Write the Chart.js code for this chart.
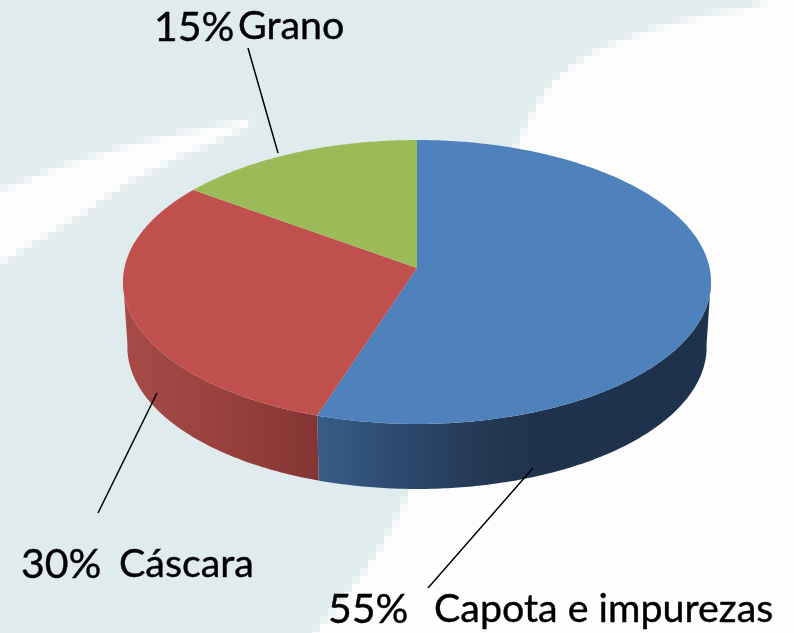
<!DOCTYPE html>
<html lang="es">
<head>
    <meta charset="UTF-8">
    <title>Composición</title>
    <script src="https://cdn.jsdelivr.net/npm/chart.js"></script>
    <style>
        html, body { margin: 0; padding: 0; background: #e0ebed; overflow: hidden; }
        canvas { display: block; }
    </style>
</head>
<body>
    <canvas id="pie" width="794" height="633"></canvas>

    <script>
        const categories = ['Capota e impurezas', 'Cáscara', 'Grano'];
        const shares = [55, 30, 15];
        const topColors = ['#4f81bd', '#c0504d', '#9bbb59'];

        // side wall gradient per slice: [x, colour]
        const wallStops = [
            [[318, '#375d87'], [400, '#2c4a6e'], [500, '#22364f'], [540, '#1f334e'], [711, '#1f324d']],
            [[123, '#a64b47'], [200, '#9c4440'], [318, '#843533']],
            [[190, '#7d9649'], [417, '#7d9649']]
        ];

        // label layout: pct x/y, name x/y, leader from/to
        const labelBoxes = [
            { pct: [328, 623], name: [434, 622], line: [533, 468, 428, 588] },
            { pct: [21, 578], name: [119, 577], line: [157, 393, 98, 513] },
            { pct: [154, 41], name: [238, 38.5], line: [248, 48, 278, 153] }
        ];

        // tilted disc with perspective
        const cx = 417, cy = 268, halfW = 292.6, halfH = 140.6, persp = 0.0986;
        const depth = 65, bottomShrink = 0.985;

        function rim(angle) {
            // chart.js angles: -PI/2 is the top of the pie
            const u = Math.cos(angle), v = Math.sin(angle);
            const d = 1 - persp * v;
            return [cx + halfW * u / d, cy + halfH * v / d, v];
        }

        function sampleArc(a, b) {
            const pts = [];
            const n = Math.max(2, Math.ceil((b - a) * 90));
            for (let i = 0; i <= n; i++) pts.push(rim(a + (b - a) * i / n));
            return pts;
        }

        function paintBackground(ctx, w, h) {
            // the backdrop is a coarse upscaled bitmap, so draw it small and blow it up
            const block = 8;
            const small = document.createElement('canvas');
            small.width = Math.ceil(w / block);
            small.height = Math.ceil(h / block);
            const s = small.getContext('2d');
            s.fillStyle = '#e0ebed';
            s.fillRect(0, 0, small.width, small.height);
            s.scale(1 / block, 1 / block);
            s.filter = 'blur(0.45px)';
            s.fillStyle = '#fdfdfd';
            // right hand sweep
            s.beginPath();
            s.moveTo(850, -40);
            s.lineTo(850, 700);
            s.lineTo(260, 700);
            s.lineTo(314, 633);
            s.bezierCurveTo(370, 570, 400, 520, 412, 480);
            s.bezierCurveTo(460, 320, 490, 180, 540, 97);
            s.bezierCurveTo(575, 50, 640, 25, 750, 8);
            s.closePath();
            s.fill();
            // left streak
            s.beginPath();
            s.moveTo(253, 118);
            s.lineTo(207, 127);
            s.lineTo(140, 142);
            s.lineTo(67, 163);
            s.lineTo(-40, 205);
            s.lineTo(-40, 290);
            s.lineTo(33, 243);
            s.lineTo(83, 213);
            s.lineTo(133, 180);
            s.lineTo(187, 153);
            s.lineTo(247, 128);
            s.closePath();
            s.fill();
            ctx.save();
            ctx.imageSmoothingEnabled = false;
            ctx.drawImage(small, 0, 0, small.width * block, small.height * block);
            ctx.restore();
        }

        function paintWall(ctx, arc, stops) {
            // only the part of the rim facing the viewer
            const pts = sampleArc(arc.startAngle, arc.endAngle).filter(p => p[2] > persp - 0.02);
            if (pts.length < 2) return;
            const grad = ctx.createLinearGradient(stops[0][0], 0, stops[stops.length - 1][0], 0);
            const span = stops[stops.length - 1][0] - stops[0][0];
            stops.forEach(st => grad.addColorStop((st[0] - stops[0][0]) / span, st[1]));
            ctx.beginPath();
            pts.forEach((p, i) => i ? ctx.lineTo(p[0], p[1]) : ctx.moveTo(p[0], p[1]));
            for (let i = pts.length - 1; i >= 0; i--) {
                ctx.lineTo(cx + (pts[i][0] - cx) * bottomShrink, pts[i][1] + depth);
            }
            ctx.closePath();
            ctx.fillStyle = grad;
            ctx.fill();
        }

        function paintTop(ctx, arc, color) {
            ctx.beginPath();
            ctx.moveTo(cx, cy);
            sampleArc(arc.startAngle, arc.endAngle).forEach(p => ctx.lineTo(p[0], p[1]));
            ctx.closePath();
            ctx.fillStyle = color;
            ctx.fill();
        }

        function paintLabels(ctx) {
            ctx.fillStyle = '#000';
            ctx.strokeStyle = '#000';
            ctx.textBaseline = 'alphabetic';
            ctx.textAlign = 'left';
            labelBoxes.forEach((box, i) => {
                ctx.lineWidth = 1.5;
                ctx.beginPath();
                ctx.moveTo(box.line[0], box.line[1]);
                ctx.lineTo(box.line[2], box.line[3]);
                ctx.stroke();
                // thin stroke to bring the weight closer to the original face
                ctx.lineWidth = 0.4;
                ctx.font = '41px Lato';
                ctx.fillText(shares[i] + '%', box.pct[0], box.pct[1]);
                ctx.strokeText(shares[i] + '%', box.pct[0], box.pct[1]);
                ctx.font = '39.4px Lato';
                ctx.fillText(categories[i], box.name[0], box.name[1]);
                ctx.strokeText(categories[i], box.name[0], box.name[1]);
            });
        }

        const tiltedPie = {
            id: 'tiltedPie',
            beforeDraw(chart) {
                paintBackground(chart.ctx, chart.width, chart.height);
            },
            beforeDatasetsDraw(chart) {
                const ctx = chart.ctx;
                const arcs = chart.getDatasetMeta(0).data;
                arcs.forEach((arc, i) => paintWall(ctx, arc, wallStops[i]));
                arcs.forEach((arc, i) => paintTop(ctx, arc, arc.options.backgroundColor));
                paintLabels(ctx);
                return false;
            }
        };

        new Chart(document.getElementById('pie'), {
            type: 'pie',
            data: {
                labels: categories,
                datasets: [{ data: shares, backgroundColor: topColors, borderWidth: 0 }]
            },
            options: {
                responsive: false,
                animation: false,
                plugins: { legend: { display: false }, tooltip: { enabled: false } }
            },
            plugins: [tiltedPie]
        });
    </script>
</body>
</html>
